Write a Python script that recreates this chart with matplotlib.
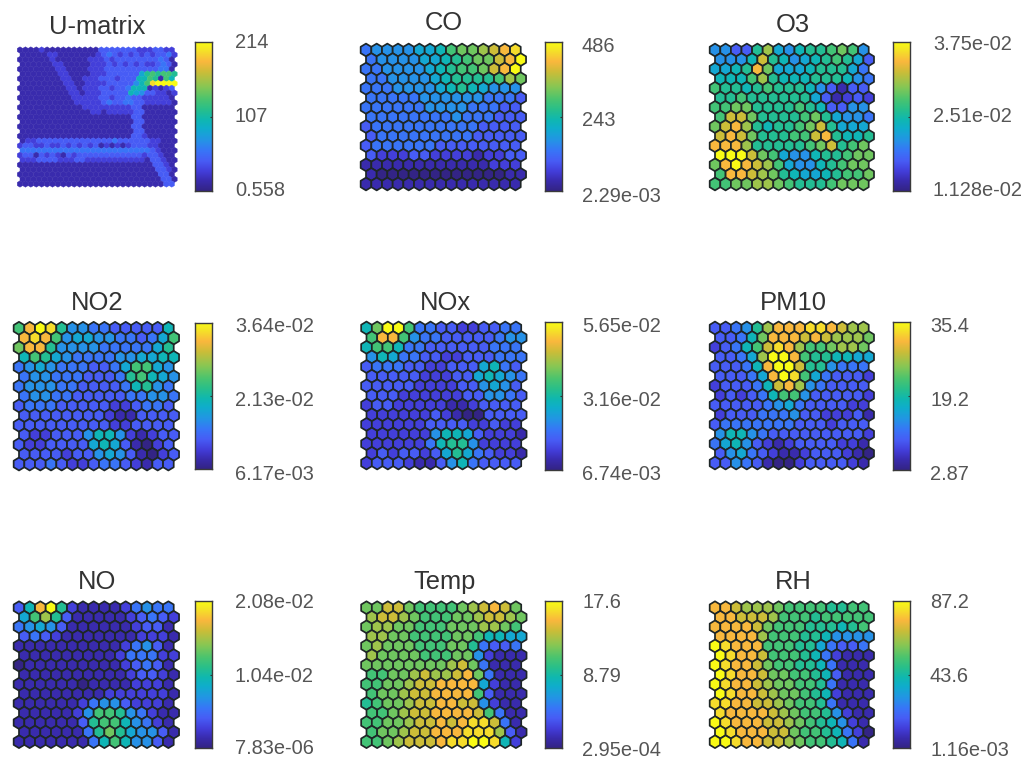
import numpy as np
import matplotlib
matplotlib.use('Agg')
import matplotlib.pyplot as plt
from matplotlib.collections import PolyCollection
from matplotlib.colors import LinearSegmentedColormap, Normalize

plt.rcParams['font.family'] = ['Liberation Sans', 'DejaVu Sans']

W, H = 1027, 760

# cell levels, one hex digit per cell, 0 = bottom of colorbar, f = top
umatrix = [
    '111121111111111' + '33333332' + '223322',
    '111112211111112' + '34323232' + '323342',
    '111111211111122' + '23233333' + '333431',
    '111111221111122' + '23232323' + '223431',
    '111111122111122' + '23333333' + '333441',
    '111111122111122' + '23333336' + '898998',
    '111111112211222' + '33323337' + '798197',
    '111111112211222' + '23333357' + '9effff',
    '111111111221222' + '33233477' + '712123',
    '111111111221222' + '33333765' + '332212',
    '111111111122222' + '33233433' + '222221',
    '111111111122222' + '34334433' + '222221',
    '111111111111222' + '22222233' + '111111',
    '111111111111122' + '12222233' + '111111',
    '111111111111111' + '11111133' + '111111',
    '111111111111111' + '11111133' + '111111',
    '111111111111111' + '11111133' + '111111',
    '111111111111111' + '11111133' + '111111',
    '111111111111111' + '11111133' + '211111',
    '122333333333333' + '33433333' + '322111',
    '233223223232323' + '12121233' + '322111',
    '444444444444444' + '44444444' + '432111',
    '233132321323333' + '33333333' + '233211',
    '222333322233222' + '22222222' + '133211',
    '111111111111111' + '11111111' + '113321',
    '111111111111111' + '11111111' + '113321',
    '111111111111111' + '11111111' + '111331',
    '111111111111111' + '11111111' + '111331',
    '111111111111111' + '11111111' + '111133',
]
co = ['455556679aabcde', '4555566789aacdf', '44555567899acdf', '4455556788889ba', '444555567876555',
      '444445555554443', '444444555544433', '444444445444333', '344444444443333', '344444444433333',
      '344444433333333', '322233222212233', '111111111111222', '100000000000011', '111111111111111']
o3 = ['55338b657889a95', '5557c8756789863', '6678da666788864', '7779b8777888754', '988789888753133',
      '889888888631232', '99aa88889873355', '9cca88889a86554', 'acdb87889ac8666', 'cdca88899cd8778',
      'dddb888889ac89a', 'fffca96557889aa', 'adfdcb965578' + '9aa', '9ddcba876678' + '99a', '99aabba98889aaa']
no2 = ['9dfe85544333337', 'ded956655443469', 'add855554444468', '798654444556677', '456544433469965',
       '455444333489765', '455544333347854', '455443333344554', '344433333223443', '333333332113333',
       '333333333223333', '322333577521233', '322333367631023', '333323356531023', '333432234432133']
nox = ['7aff94433223344', '9dd954433333455', '799744333333444', '576443322333444', '344433223336743',
       '333332223367654', '333332222335653', '333222222335543', '233222221123333', '222222321003333',
       '222222333322322', '222222577632221', '222222478852222', '232332368643221', '233321135743333']
pm10 = ['33458bdddeedcbb', '3347adddcdcbbba', '23479cedb99abba', '3346bffd9887766', '33347dffc885444',
        '33346dfe9643332', '233347cdb543333', '232347995333332', '333334564333322', '233344453322231',
        '344444443332333', '577543333333332', '467532123333221', '356432112333210', '335431002333321']
no = ['37df82111124544', '69b831111123432', '456531111112331', '343211111112221', '111111111124531',
      '111111111244422', '011111111123431', '111111111123321', '111111011112221', '111111112222221',
      '111111245532221', '111112599854211', '111111389975421', '11111148a865531', '111111147975531']
temp = ['aacca9999abcdca', 'bccba999aabccba', 'abbaa999aaabba9', 'bbaa9999aa97766', 'abaaa999aa84334',
        'baaaa999aa52111', 'aaaaaaaabca4111', '99aabcbbcda4111', '99aabccdddd6211', '9aabccdddd93111',
        '89aabccddcc5211', '99abccddddc9411', '99aabccdcdeec41', '9aabccdddeeeb31', '99abcccdeeffe72']
rh = ['ddcbbba99998899', 'ddcccb999899999', 'ddddca999888789', 'ddddb9998875555', 'feddd9998864334',
      'feddc9998742111', 'feddca998874111', 'feddcaa99873111', 'feddcbaa9984111', 'feddcbaa9872111',
      'eeddccba9984111', 'eddddcba9985211', 'fedddccba987521', 'fedddcca9987420', 'ffeddccba998741']

titles = ['U-matrix', 'CO', 'O3', 'NO2', 'NOx', 'PM10', 'NO', 'Temp', 'RH']
planes = [umatrix, co, o3, no2, nox, pm10, no, temp, rh]
vmins = [0.558, 2.29e-03, 1.128e-02, 6.17e-03, 6.74e-03, 2.87, 7.83e-06, 2.95e-04, 1.16e-03]
vmaxs = [214, 486, 3.75e-02, 3.64e-02, 5.65e-02, 35.4, 2.08e-02, 17.6, 87.2]
tick_labels = [['214', '107', '0.558'], ['486', '243', '2.29e-03'], ['3.75e-02', '2.51e-02', '1.128e-02'],
               ['3.64e-02', '2.13e-02', '6.17e-03'], ['5.65e-02', '3.16e-02', '6.74e-03'], ['35.4', '19.2', '2.87'],
               ['2.08e-02', '1.04e-02', '7.83e-06'], ['17.6', '8.79', '2.95e-04'], ['87.2', '43.6', '1.16e-03']]

# layout in picture pixels: first cell centre, cell pitch, bar box, label x, label ys, title centre
first_x = [20, 366, 715, 19, 366.5, 715, 19, 366.5, 715]
first_y = [50, 50, 50, 328.3, 328, 328, 607.7, 607.7, 607.7]
last_y = [184, 184, 184, 464, 463, 463, 741.7, 741.7, 741.7]
pitch_x = [5.42, 10.67, 10.6, 10.67, 10.67, 10.6, 10.67, 10.67, 10.6]
bar_left = [195, 545, 893, 195, 545, 893, 195, 545, 893]
bar_top = [42, 42, 42, 322.7, 322, 322, 601, 601, 601]
bar_bottom = [191, 191, 191, 469, 470, 470, 748, 748, 748]
label_x = [235, 582, 933, 235, 582, 930, 235, 582, 930]
label_y = [[43, 117, 191], [47, 121, 196], [44, 117, 191],
           [326, 400, 474], [326, 400, 474], [326, 400, 474],
           [602, 676, 749], [602, 676, 750], [602, 676, 750]]
title_x = [97, 444, 793, 97, 445, 793, 97, 445, 793]
title_y = [27, 23, 25, 303, 303, 303, 582, 582, 582]

parula = LinearSegmentedColormap.from_list('parula', [
    (0.00, (0.2000, 0.1400, 0.5200)), (0.067, (0.2250, 0.1700, 0.6800)), (0.13, (0.2600, 0.2400, 0.8500)),
    (0.20, (0.2800, 0.3600, 0.9600)), (0.27, (0.2200, 0.4600, 0.9700)), (0.34, (0.1400, 0.5800, 0.9000)),
    (0.42, (0.0600, 0.6800, 0.8000)), (0.48, (0.0600, 0.7200, 0.6900)), (0.55, (0.1600, 0.7500, 0.5400)),
    (0.62, (0.3000, 0.7700, 0.4300)), (0.70, (0.5300, 0.7800, 0.3300)), (0.80, (0.8000, 0.7400, 0.2200)),
    (0.87, (0.9800, 0.7200, 0.2400)), (0.95, (0.9600, 0.9000, 0.1500)), (1.00, (0.9769, 0.9839, 0.0805))])


def px_axes(fig, left, top, right, bottom):
    return fig.add_axes([left / W, 1 - bottom / H, (right - left) / W, (bottom - top) / H])


fig = plt.figure(figsize=(W / 100, H / 100), dpi=100)

for i, rows in enumerate(planes):
    nr, nc = len(rows), len(rows[0])
    levels = np.array([[int(c, 16) for c in row] for row in rows]) / 15
    values = vmins[i] + levels * (vmaxs[i] - vmins[i])

    dy = (last_y[i] - first_y[i]) / (nr - 1)
    ax = px_axes(fig, first_x[i] - 0.5 * pitch_x[i], first_y[i] - 0.7 * dy,
                 first_x[i] + nc * pitch_x[i], first_y[i] + (nr - 1 + 0.7) * dy)
    ax.set_xlim(-0.5, nc)
    ax.set_ylim(nr - 1 + 0.7, -0.7)
    ax.axis('off')

    hex_x = np.array([0, 0.5, 0.5, 0, -0.5, -0.5])
    hex_y = np.array([-2, -1, 1, 2, 1, -1]) / 3
    polys = []
    for r in range(nr):
        for c in range(nc):
            polys.append(np.column_stack([hex_x + c + 0.5 * (r % 2), hex_y + r]))
    if nr > 15:
        coll = PolyCollection(polys, array=values.ravel(), cmap=parula, edgecolors='face', linewidths=0.3)
    else:
        coll = PolyCollection(polys, array=values.ravel(), cmap=parula, edgecolors='#1e2626', linewidths=1.25,
                              joinstyle='round')
    coll.set_norm(Normalize(vmins[i], vmaxs[i]))
    coll.set_clip_on(False)
    ax.add_collection(coll)

    fig.text(title_x[i] / W, 1 - title_y[i] / H, titles[i], fontsize=18.4, color='#333333',
             ha='center', va='center')

    cax = px_axes(fig, bar_left[i], bar_top[i], bar_left[i] + 17, bar_bottom[i])
    cax.imshow(np.linspace(1, 0, 256)[:, None], cmap=parula, aspect='auto', extent=[0, 1, 0, 1])
    cax.set_xticks([])
    cax.yaxis.tick_right()
    cax.set_yticks([0.5])
    cax.set_yticklabels([''])
    cax.tick_params(direction='in', length=1.5, width=0.8, color='#333333')
    for s in cax.spines.values():
        s.set_color('#3a3a3a')
        s.set_linewidth(1.0)

    for lab, ly in zip(tick_labels[i], label_y[i]):
        fig.text(label_x[i] / W, 1 - ly / H, lab, fontsize=14.4, color='#555555', ha='left', va='center')

plt.savefig('out.png', dpi=100)
